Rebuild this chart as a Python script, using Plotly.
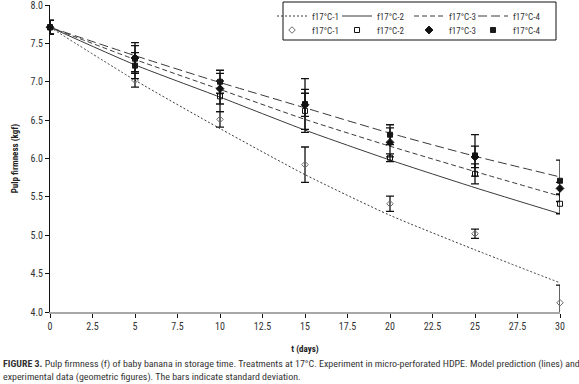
import plotly.graph_objects as go

# Model predictions (lines)
t_model = [0, 5, 10, 15, 20, 25, 30]
model_f1 = [7.71, 7.02, 6.39, 5.79, 5.26, 4.81, 4.38]
model_f2 = [7.71, 7.22, 6.80, 6.37, 5.98, 5.62, 5.28]
model_f3 = [7.71, 7.29, 6.90, 6.51, 6.16, 5.83, 5.51]
model_f4 = [7.71, 7.34, 6.99, 6.66, 6.33, 6.03, 5.76]

# Experimental data (markers) and standard deviations
t_exp = [0, 5, 10, 15, 20, 25, 30]
exp_f1 = [7.71, 7.02, 6.51, 5.92, 5.41, 5.02, 4.12]
sd_f1 = [0.09, 0.09, 0.10, 0.23, 0.10, 0.06, 0.23]
exp_f2 = [7.71, 7.30, 6.81, 6.62, 6.01, 5.80, 5.41]
sd_f2 = [0.09, 0.17, 0.20, 0.28, 0.05, 0.13, 0.13]
exp_f3 = [7.71, 7.31, 6.91, 6.70, 6.21, 6.02, 5.61]
sd_f3 = [0.09, 0.20, 0.20, 0.15, 0.19, 0.14, 0.08]
exp_f4 = [7.71, 7.21, 7.00, 6.71, 6.31, 6.04, 5.71]
sd_f4 = [0.09, 0.17, 0.15, 0.33, 0.13, 0.27, 0.27]

names = ["f17°C-1", "f17°C-2", "f17°C-3", "f17°C-4"]

FONT = "Liberation Sans Narrow, Arial Narrow, Roboto Condensed, Liberation Sans, sans-serif"
LINE_COLOR = "#3a3a3a"

# legend column widths (px) per entry, columns 1..4
col_widths = [20, 27, 19, 43]

fig = go.Figure()

models = [model_f1, model_f2, model_f3, model_f4]
dashes = ["2px,2px", "solid", "5px,3px", "9px,4px"]
for name, y, d, lw in zip(names, models, dashes, col_widths):
    fig.add_trace(go.Scatter(
        x=t_model, y=y, mode="lines", name=name,
        line=dict(color=LINE_COLOR, width=1, dash=d, shape="spline", smoothing=0.6),
        legend="legend", legendwidth=lw, cliponaxis=False,
    ))

exps = [exp_f1, exp_f2, exp_f4, exp_f3]
sds = [sd_f1, sd_f2, sd_f4, sd_f3]
exp_names = [names[0], names[1], names[3], names[2]]
symbols = ["diamond-open", "square-open", "square", "diamond"]
mcolors = ["#6a6a6a", "#111111", "#1a1a1a", "#111111"]
msizes = [5, 5, 5, 6]
ranks = [1, 2, 4, 3]
for name, y, sd, s, c, ms, r in zip(exp_names, exps, sds, symbols, mcolors, msizes, ranks):
    fig.add_trace(go.Scatter(
        x=t_exp, y=y, mode="markers", name=name,
        marker=dict(symbol=s, color=c, size=ms, line=dict(color=c, width=1)),
        error_y=dict(type="data", array=sd, visible=True, color="#111111",
                     thickness=1.3, width=4),
        legend="legend2", legendrank=r, legendwidth=col_widths[r - 1], cliponaxis=False,
    ))

# legend frame
fig.add_shape(type="rect", xref="paper", yref="paper",
              x0=(283 - 50) / 510, x1=(556 - 50) / 510,
              y0=1 - (40 - 5) / 307, y1=1 + 3 / 307,
              line=dict(color="#111111", width=1), fillcolor="rgba(0,0,0,0)")

leg_common = dict(orientation="h", xanchor="right", yanchor="middle",
                  bgcolor="rgba(0,0,0,0)", borderwidth=0,
                  traceorder="normal",
                  font=dict(size=9, family=FONT, color="#333333"))

fig.update_layout(
    width=579, height=384,
    margin=dict(l=50, r=19, t=5, b=72, autoexpand=False),
    paper_bgcolor="white", plot_bgcolor="white",
    font=dict(family=FONT, size=10, color="#333333"),
    showlegend=True,
    legend=dict(x=1.002, y=1 - (16 - 5) / 307, **leg_common),
    legend2=dict(x=1.002, y=1 - (30 - 5) / 307, **leg_common),
    xaxis=dict(range=[0, 30], dtick=2.5, tick0=0, showgrid=False, zeroline=False,
               showline=True, linecolor="#a8a8a8", linewidth=2,
               ticks="outside", ticklen=4, tickcolor="#111111", tickwidth=1,
               tickfont=dict(size=10, color="#333333"), ticklabeloverflow="allow",
               title=dict(text="<b>t (days)</b>", font=dict(size=9, color="#222222"), standoff=15)),
    yaxis=dict(range=[4, 8], dtick=0.5, tickformat=".1f", showgrid=False, zeroline=False,
               showline=True, linecolor="#111111", linewidth=1,
               ticks="outside", ticklen=4, tickcolor="#111111", tickwidth=1,
               tickfont=dict(size=10, color="#333333"), ticklabeloverflow="allow",
               title=dict(text="<b>Pulp firmness (kgf)</b>", font=dict(size=9, color="#222222"), standoff=10)),
)

fig.add_annotation(
    xref="paper", yref="paper", x=-49 / 510, y=-44 / 307, xanchor="left", yanchor="top",
    align="left", showarrow=False,
    text=("<b>FIGURE 3.</b> Pulp firmness (f) of baby banana in storage time. Treatments at 17°C. "
          "Experiment in micro-perforated HDPE. Model prediction (lines) and<br>"
          "experimental data (geometric figures). The bars indicate standard deviation."),
    font=dict(size=9.95, family=FONT, color="#333333"),
)

fig.write_html("out.html", config={"displayModeBar": False},
               post_script="document.body.style.margin='0px';")
